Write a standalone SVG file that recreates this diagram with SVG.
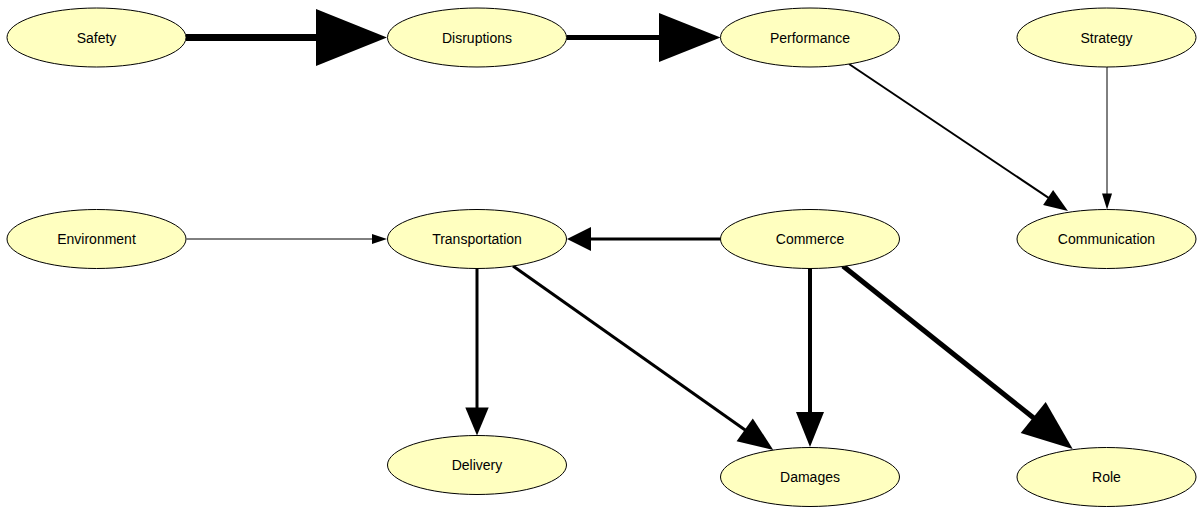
<svg xmlns="http://www.w3.org/2000/svg" width="1197" height="507" viewBox="0 0 1197 507">
<style>
.node ellipse{fill:#ffffc0;stroke:#000;stroke-width:1}
.node text{font-family:"Liberation Sans",Arial,sans-serif;font-size:14px;fill:#000;text-anchor:middle}
.edge line{stroke:#000;fill:none}
.edge polygon{fill:#000;stroke:none}
</style>
<rect width="1197" height="507" fill="#fff"/>
<g id="connectors" class="edge">
<line x1="186" y1="37.5" x2="317" y2="37.5" stroke-width="7"/>
<polygon points="387,37.5 316,9 316,66"/>
<line x1="566.5" y1="37.5" x2="660" y2="37.5" stroke-width="5"/>
<polygon points="720.5,37.5 659,13 659,62"/>
<line x1="849" y1="64" x2="1049" y2="198.2" stroke-width="2"/>
<polygon points="1068,211 1053.1,190.1 1043.1,205.1"/>
<line x1="1107" y1="67" x2="1107" y2="195" stroke-width="1"/>
<polygon points="1107,209.5 1102,193.5 1112,193.5"/>
<line x1="186.5" y1="239" x2="373" y2="239" stroke-width="1"/>
<polygon points="387,239 372,234 372,244"/>
<line x1="720.5" y1="239" x2="590" y2="239" stroke-width="3"/>
<polygon points="567,239 591,227 591,251"/>
<line x1="477" y1="268.5" x2="477" y2="409" stroke-width="3"/>
<polygon points="477,435.5 465.3,407.5 488.7,407.5"/>
<line x1="513" y1="266" x2="745.5" y2="430.3" stroke-width="3"/>
<polygon points="773.3,450 736.6,441.2 752.8,418.4"/>
<line x1="810" y1="268.5" x2="810" y2="413" stroke-width="4"/>
<polygon points="810,447 796,412 824,412"/>
<line x1="843" y1="266" x2="1034" y2="418.2" stroke-width="5"/>
<polygon points="1072.7,449 1020.7,433.1 1045.7,401.9"/>
</g>
<g id="Safety" class="node"><ellipse cx="96.5" cy="37.5" rx="89.5" ry="29.5"/><text x="96.5" y="42.5">Safety</text></g>
<g id="Disruptions" class="node"><ellipse cx="477" cy="37.5" rx="89.5" ry="29.5"/><text x="477" y="42.5">Disruptions</text></g>
<g id="Performance" class="node"><ellipse cx="810" cy="37.5" rx="89.5" ry="29.5"/><text x="810" y="42.5">Performance</text></g>
<g id="Strategy" class="node"><ellipse cx="1106.5" cy="37.5" rx="89.5" ry="29.5"/><text x="1106.5" y="42.5">Strategy</text></g>
<g id="Environment" class="node"><ellipse cx="96.5" cy="239" rx="89.5" ry="29.5"/><text x="96.5" y="244">Environment</text></g>
<g id="Transportation" class="node"><ellipse cx="477" cy="239" rx="89.5" ry="29.5"/><text x="477" y="244">Transportation</text></g>
<g id="Commerce" class="node"><ellipse cx="810" cy="239" rx="89.5" ry="29.5"/><text x="810" y="244">Commerce</text></g>
<g id="Communication" class="node"><ellipse cx="1106.5" cy="239" rx="89.5" ry="29.5"/><text x="1106.5" y="244">Communication</text></g>
<g id="Delivery" class="node"><ellipse cx="477" cy="465" rx="89.5" ry="29.5"/><text x="477" y="470">Delivery</text></g>
<g id="Damages" class="node"><ellipse cx="810" cy="477" rx="89.5" ry="29.5"/><text x="810" y="482">Damages</text></g>
<g id="Role" class="node"><ellipse cx="1106.5" cy="477" rx="89.5" ry="29.5"/><text x="1106.5" y="482">Role</text></g>
</svg>
